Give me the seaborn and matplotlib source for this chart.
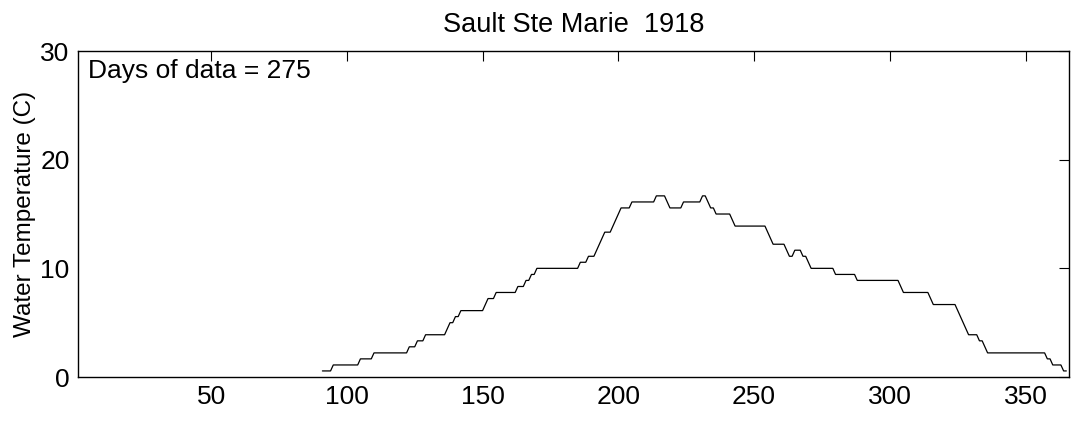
import numpy as np
import pandas as pd
import seaborn as sns
import matplotlib
matplotlib.use("Agg")
import matplotlib.pyplot as plt

# day where a new reading starts, and the water temperature (C) held from then on
start_day = [91, 95, 105, 110, 123, 126, 129, 137, 138, 140, 142, 151, 152, 155,
             163, 166, 168, 170, 186, 189, 192, 193, 194, 195, 198, 199, 200, 201,
             205, 214, 218, 219, 224, 231, 233, 234, 236, 242, 243, 255, 256, 257,
             262, 263, 265, 268, 270, 271, 280, 288, 304, 305, 315, 316, 325, 326,
             327, 328, 329, 333, 335, 336, 358, 360, 364]
temp_c = [0.56, 1.11, 1.67, 2.22, 2.78, 3.33, 3.89, 4.44, 5.00, 5.56, 6.11, 6.67, 7.22, 7.78,
          8.33, 8.89, 9.44, 10.00, 10.56, 11.11, 11.67, 12.22, 12.78, 13.33, 13.89, 14.44, 15.00, 15.56,
          16.11, 16.67, 16.11, 15.56, 16.11, 16.67, 16.11, 15.56, 15.00, 14.44, 13.89, 13.33, 12.78, 12.22,
          11.67, 11.11, 11.67, 11.11, 10.56, 10.00, 9.44, 8.89, 8.33, 7.78, 7.22, 6.67, 6.11, 5.56,
          5.00, 4.44, 3.89, 3.33, 2.78, 2.22, 1.67, 1.11, 0.56]
last_day = 365

station = "Sault Ste Marie"
year = 1918
x_ticks = [50, 100, 150, 200, 250, 300, 350]
y_ticks = [0, 10, 20, 30]

# hold each reading until the next one starts
ends = start_day[1:] + [last_day + 1]
n_days = np.array(ends) - np.array(start_day)
df = pd.DataFrame({
    "day": np.arange(start_day[0], last_day + 1),
    "temp": np.repeat(temp_c, n_days),
})

sns.set_style("white")
plt.rcParams["font.family"] = ["Liberation Sans", "DejaVu Sans"]
plt.rcParams["text.color"] = "black"
plt.rcParams["axes.labelcolor"] = "black"

fig = plt.figure(figsize=(10.78, 4.24), dpi=100)
ax = fig.add_axes([0.0724, 0.1108, 0.9193, 0.7689])

sns.lineplot(data=df, x="day", y="temp", ax=ax, color="black", linewidth=0.9)

ax.set_xlim(1, 366)
ax.set_ylim(0, 30)
ax.set_xticks(x_ticks)
ax.set_yticks(y_ticks)
ax.tick_params(direction="in", length=7, width=0.8, top=True, right=True,
               labelsize=19, colors="black", pad=6)
for s in ax.spines.values():
    s.set_color("black")
    s.set_linewidth(1.0)

ax.set_xlabel("")
ax.set_ylabel("Water Temperature (C)", fontsize=17.5, labelpad=3)
ax.set_title(f"{station}  {year}", fontsize=19.5, pad=14, color="black")
ax.text(0.01, 0.975, f"Days of data = {len(df)}", transform=ax.transAxes,
        fontsize=19, va="top", ha="left", color="black")

fig.savefig("out.png", dpi=100)
